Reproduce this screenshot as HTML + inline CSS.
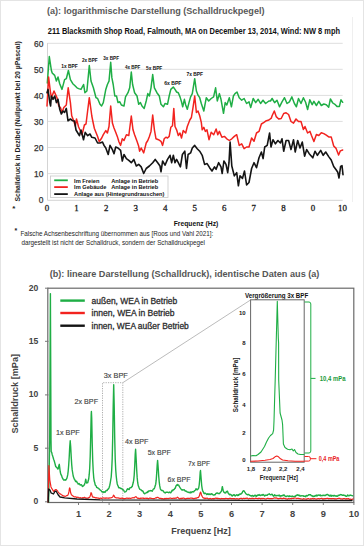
<!DOCTYPE html>
<html><head><meta charset="utf-8"><title>Schalldruck</title>
<style>
html,body{margin:0;padding:0;background:#fff;}
body{width:364px;height:546px;position:relative;overflow:hidden;font-family:"Liberation Sans", sans-serif;}
</style></head><body>
<svg width="364" height="546" viewBox="0 0 364 546" style="position:absolute;left:0;top:0"><rect x="0.5" y="0.5" width="363" height="545" fill="none" stroke="#e4e4e4" stroke-width="1"/><line x1="352.5" y1="17" x2="352.5" y2="202" stroke="#efefef" stroke-width="1"/><text x="47" y="13.7" font-size="9.4" fill="#595959" font-weight="bold" font-family='"Liberation Sans", sans-serif' textLength="217.5" lengthAdjust="spacingAndGlyphs">(a): logarithmische Darstellung (Schalldruckpegel)</text><text x="47.8" y="33.5" font-size="8.5" fill="#111" font-weight="bold" font-family='"Liberation Sans", sans-serif' textLength="292.2" lengthAdjust="spacingAndGlyphs">211 Blacksmith Shop Road, Falmouth, MA on December 13, 2014, Wind: NW 8 mph</text><line x1="47.5" y1="43.3" x2="342.7" y2="43.3" stroke="#dedede" stroke-width="1"/><line x1="47.5" y1="69.3" x2="342.7" y2="69.3" stroke="#dedede" stroke-width="1"/><line x1="47.5" y1="95.4" x2="342.7" y2="95.4" stroke="#dedede" stroke-width="1"/><line x1="47.5" y1="121.4" x2="342.7" y2="121.4" stroke="#dedede" stroke-width="1"/><line x1="47.5" y1="147.5" x2="342.7" y2="147.5" stroke="#dedede" stroke-width="1"/><line x1="47.5" y1="173.6" x2="342.7" y2="173.6" stroke="#dedede" stroke-width="1"/><line x1="47.5" y1="43" x2="47.5" y2="200.3" stroke="#d4d4d4" stroke-width="1"/><line x1="47.5" y1="200.3" x2="342.7" y2="200.3" stroke="#d4d4d4" stroke-width="1"/><text x="43.4" y="46.7" font-size="8.4" fill="#333" font-weight="normal" font-family='"Liberation Sans", sans-serif' text-anchor="end" stroke="#333" stroke-width="0.25">60</text><text x="43.4" y="72.8" font-size="8.4" fill="#333" font-weight="normal" font-family='"Liberation Sans", sans-serif' text-anchor="end" stroke="#333" stroke-width="0.25">50</text><text x="43.4" y="98.9" font-size="8.4" fill="#333" font-weight="normal" font-family='"Liberation Sans", sans-serif' text-anchor="end" stroke="#333" stroke-width="0.25">40</text><text x="43.4" y="125.0" font-size="8.4" fill="#333" font-weight="normal" font-family='"Liberation Sans", sans-serif' text-anchor="end" stroke="#333" stroke-width="0.25">30</text><text x="43.4" y="151.1" font-size="8.4" fill="#333" font-weight="normal" font-family='"Liberation Sans", sans-serif' text-anchor="end" stroke="#333" stroke-width="0.25">20</text><text x="43.4" y="177.2" font-size="8.4" fill="#333" font-weight="normal" font-family='"Liberation Sans", sans-serif' text-anchor="end" stroke="#333" stroke-width="0.25">10</text><text x="43.4" y="203.3" font-size="8.4" fill="#333" font-weight="normal" font-family='"Liberation Sans", sans-serif' text-anchor="end" stroke="#333" stroke-width="0.25">0</text><text x="47.0" y="210.8" font-size="8.9" fill="#222" font-weight="normal" font-family='"Liberation Serif", serif' text-anchor="middle" stroke="#222" stroke-width="0.3">0</text><text x="76.5" y="210.8" font-size="8.9" fill="#222" font-weight="normal" font-family='"Liberation Serif", serif' text-anchor="middle" stroke="#222" stroke-width="0.3">1</text><text x="106.1" y="210.8" font-size="8.9" fill="#222" font-weight="normal" font-family='"Liberation Serif", serif' text-anchor="middle" stroke="#222" stroke-width="0.3">2</text><text x="135.7" y="210.8" font-size="8.9" fill="#222" font-weight="normal" font-family='"Liberation Serif", serif' text-anchor="middle" stroke="#222" stroke-width="0.3">3</text><text x="165.2" y="210.8" font-size="8.9" fill="#222" font-weight="normal" font-family='"Liberation Serif", serif' text-anchor="middle" stroke="#222" stroke-width="0.3">4</text><text x="194.8" y="210.8" font-size="8.9" fill="#222" font-weight="normal" font-family='"Liberation Serif", serif' text-anchor="middle" stroke="#222" stroke-width="0.3">5</text><text x="224.3" y="210.8" font-size="8.9" fill="#222" font-weight="normal" font-family='"Liberation Serif", serif' text-anchor="middle" stroke="#222" stroke-width="0.3">6</text><text x="253.8" y="210.8" font-size="8.9" fill="#222" font-weight="normal" font-family='"Liberation Serif", serif' text-anchor="middle" stroke="#222" stroke-width="0.3">7</text><text x="283.4" y="210.8" font-size="8.9" fill="#222" font-weight="normal" font-family='"Liberation Serif", serif' text-anchor="middle" stroke="#222" stroke-width="0.3">8</text><text x="312.9" y="210.8" font-size="8.9" fill="#222" font-weight="normal" font-family='"Liberation Serif", serif' text-anchor="middle" stroke="#222" stroke-width="0.3">0</text><text x="342.5" y="210.8" font-size="8.9" fill="#222" font-weight="normal" font-family='"Liberation Serif", serif' text-anchor="middle" stroke="#222" stroke-width="0.3">10</text><text x="0" y="0" font-size="7.6" fill="#1e1e1e" font-weight="bold" font-family='"Liberation Sans", sans-serif' textLength="160.4" lengthAdjust="spacingAndGlyphs" transform="translate(20.4,201.5) rotate(-90)">Schalldruck in Dezibel (Nullpunkt bei 20 µPascal)</text><text x="12.2" y="211" font-size="8" fill="#222" font-weight="bold" font-family='"Liberation Sans", sans-serif'>*</text><polyline points="47.3,83.0 49.3,56.5 51.4,70.5 52.2,73.0 54.7,75.4 56.4,81.0 58.0,77.0 59.7,83.7 62.0,89.4 64.6,79.6 66.3,78.7 68.4,70.5 70.4,79.6 72.8,83.7 74.5,85.3 77.0,87.8 78.6,88.6 81.0,89.4 83.6,84.5 84.9,92.7 86.9,91.0 89.3,65.5 91.0,81.0 93.4,87.8 96.0,97.7 97.6,98.5 100.0,104.3 101.6,106.0 103.3,102.6 105.8,89.4 107.4,84.5 109.0,81.2 110.7,62.3 111.9,77.9 113.2,84.5 114.8,96.0 116.5,96.0 118.0,102.6 119.8,101.8 121.4,105.0 124.0,106.0 125.5,96.9 128.0,92.7 129.7,87.8 131.3,72.0 132.6,84.5 134.6,92.7 137.0,96.0 138.7,104.3 140.4,102.6 142.0,106.0 144.2,108.4 146.2,101.0 147.8,93.6 149.4,96.0 151.0,87.8 152.7,74.6 154.4,87.8 156.9,92.7 159.3,96.0 161.0,104.3 163.4,106.8 165.0,103.5 167.5,104.3 169.2,96.0 170.8,89.4 173.3,87.0 175.0,89.4 176.6,92.0 178.3,92.7 180.0,96.9 181.5,101.8 182.7,106.8 184.4,99.3 185.7,105.0 187.3,109.2 189.0,102.6 190.6,96.9 192.3,93.6 194.7,78.7 196.4,91.0 198.0,95.2 199.7,97.7 201.3,103.5 203.8,111.0 206.3,97.7 208.7,101.0 211.2,98.5 213.6,96.9 215.6,87.8 217.3,101.0 219.4,93.6 221.0,99.3 223.5,113.3 225.2,102.6 226.8,105.0 229.3,97.7 231.4,106.8 233.4,96.0 235.0,93.6 237.0,92.0 239.2,97.7 241.7,100.2 244.1,98.5 246.6,103.5 249.0,101.8 250.7,107.6 253.2,98.5 255.7,102.6 258.2,99.3 260.6,103.5 263.0,100.2 265.6,103.5 268.9,101.0 270.5,101.0 272.1,98.5 274.6,102.6 277.0,100.2 279.5,106.8 282.0,101.8 284.5,97.7 287.0,103.5 289.4,101.8 291.9,96.9 294.4,103.5 296.4,106.8 298.5,98.5 301.0,103.5 303.4,97.7 305.6,102.3 307.6,109.5 309.8,99.8 312.2,104.7 313.9,101.4 316.4,105.5 318.8,101.4 321.3,105.5 323.8,104.0 326.3,104.7 328.7,107.2 330.4,99.0 332.8,103.0 335.3,104.7 337.0,106.4 339.4,106.4 341.0,99.8 342.7,102.3" fill="none" stroke="#1fae45" stroke-width="1.5" stroke-linejoin="round" stroke-linecap="round"/><polyline points="47.0,106.0 48.6,77.0 50.3,91.0 51.4,97.7 54.0,91.0 55.5,94.4 57.0,97.7 58.8,106.0 60.5,107.6 62.0,112.5 63.8,107.6 66.3,105.0 68.2,87.8 70.4,102.6 71.7,115.8 73.7,120.8 75.3,126.0 76.5,119.0 78.6,127.0 80.0,130.0 82.0,134.8 84.4,125.0 86.0,124.0 87.5,112.0 89.3,97.7 91.0,110.0 91.8,116.0 93.0,122.0 94.3,128.2 97.6,136.5 99.2,141.4 100.0,140.5 101.7,138.0 103.3,134.7 105.8,130.6 107.4,133.0 109.0,126.5 110.7,106.0 112.4,123.0 114.0,128.0 115.7,132.3 117.3,136.4 119.0,142.0 120.6,145.4 122.3,138.8 124.0,140.5 126.4,134.7 128.8,135.5 131.3,116.0 133.0,129.8 134.6,134.7 137.0,141.3 138.7,146.3 139.6,151.2 141.2,148.0 143.7,152.9 146.2,143.0 147.8,140.5 149.4,136.4 151.0,131.4 152.7,115.0 154.4,129.8 156.0,138.8 158.5,139.7 161.0,141.3 162.6,145.4 164.2,138.8 165.9,137.2 167.5,138.0 169.2,136.4 170.8,127.3 172.5,125.7 173.8,108.4 175.0,126.5 176.6,129.8 178.3,135.5 180.0,133.0 181.5,138.0 183.2,130.6 185.7,133.0 187.3,126.5 189.8,120.0 191.4,117.5 193.0,107.6 194.7,96.0 196.4,112.5 198.0,111.0 199.7,115.8 201.3,122.4 202.2,129.8 203.8,127.3 205.4,131.4 207.0,129.8 209.0,139.7 211.2,132.3 213.7,134.7 216.1,129.0 217.8,134.7 219.4,131.4 221.9,137.2 224.4,136.4 226.8,138.8 229.3,140.5 231.8,138.8 234.3,136.4 236.7,134.7 239.2,145.4 241.7,143.8 244.1,148.7 246.6,147.0 249.0,147.0 251.6,138.0 254.0,141.3 256.5,133.0 259.0,131.4 261.4,124.0 264.0,122.4 266.4,120.7 268.9,120.0 271.3,118.2 272.1,115.8 274.3,111.0 276.2,116.6 278.7,119.0 281.2,118.5 283.7,113.5 286.1,112.8 288.6,114.5 291.0,121.5 293.5,123.2 296.0,119.0 298.5,121.5 301.0,121.5 303.4,129.5 305.0,126.5 307.6,133.0 310.0,131.4 311.4,135.2 313.9,141.5 316.4,134.5 318.8,135.5 321.3,132.7 323.8,133.6 326.3,135.2 328.7,136.9 331.2,136.9 333.7,146.0 336.1,148.4 338.6,155.0 340.3,150.9 342.7,150.0" fill="none" stroke="#f2231f" stroke-width="1.5" stroke-linejoin="round" stroke-linecap="round"/><polyline points="47.0,92.7 48.0,89.4 49.8,102.6 50.6,106.0 51.4,96.0 53.0,99.3 54.7,96.0 56.4,102.6 58.0,99.3 59.7,109.2 61.3,114.0 63.0,111.0 64.6,112.5 66.3,108.4 68.0,120.8 70.4,119.0 72.8,120.8 74.5,121.0 76.0,130.0 77.8,133.0 79.4,135.7 81.0,130.0 83.5,139.8 85.2,132.4 87.7,135.7 90.0,134.0 91.8,137.3 95.0,138.0 97.6,143.0 100.0,143.0 102.5,142.0 104.0,145.4 105.8,148.0 108.2,154.5 110.0,145.4 112.4,149.6 114.0,153.7 115.7,147.0 118.0,148.0 120.6,150.4 122.3,161.0 124.0,154.5 126.4,158.6 128.8,160.3 131.3,162.7 133.8,159.4 136.3,166.0 138.7,164.4 141.2,166.9 143.7,173.5 146.2,168.5 149.4,166.0 152.7,162.7 155.2,159.4 157.7,162.7 160.0,166.0 161.0,171.8 162.6,161.0 165.0,165.2 167.5,159.4 170.0,155.3 171.7,162.7 173.3,155.3 175.0,162.7 176.6,159.4 178.3,162.7 180.4,166.9 182.4,154.5 184.8,151.2 186.5,168.5 188.1,154.5 190.6,152.9 192.3,148.0 194.7,145.4 197.2,148.7 199.7,151.2 202.2,155.3 204.6,164.4 207.1,163.6 209.6,167.7 212.0,171.0 214.5,166.9 216.1,169.3 218.6,162.7 221.0,166.9 222.2,173.5 223.9,161.0 226.0,164.4 227.7,172.6 229.0,162.7 230.1,142.1 231.8,166.0 234.3,175.9 236.7,172.6 238.4,185.8 240.0,175.9 242.5,178.4 244.5,171.0 246.6,185.0 249.0,182.5 251.6,168.5 254.0,162.7 256.5,167.7 259.0,157.8 261.4,152.0 263.1,158.6 264.7,147.0 267.2,145.4 269.6,133.0 271.0,147.0 273.0,139.7 275.4,143.8 277.9,140.5 280.4,143.0 282.0,138.8 283.7,151.2 286.1,140.5 288.6,140.5 291.0,149.6 293.5,139.7 295.2,152.0 297.7,140.5 300.0,148.0 302.3,142.1 304.6,156.2 306.7,149.6 309.2,153.7 312.8,157.8 315.0,151.2 317.4,155.3 320.7,150.4 323.2,155.3 325.7,152.0 328.7,156.6 331.2,160.0 333.7,166.5 336.1,169.8 337.8,172.3 339.0,178.0 340.6,166.5 342.0,165.7 343.0,174.7" fill="none" stroke="#141414" stroke-width="1.6" stroke-linejoin="round" stroke-linecap="round"/><text x="61.3" y="67.8" font-size="6.2" fill="#111" font-weight="bold" font-family='"Liberation Sans", sans-serif' textLength="16.5" lengthAdjust="spacingAndGlyphs">1x BPF</text><text x="81.9" y="62.1" font-size="6.2" fill="#111" font-weight="bold" font-family='"Liberation Sans", sans-serif' textLength="15.7" lengthAdjust="spacingAndGlyphs">2x BPF</text><text x="103.3" y="60.1" font-size="6.2" fill="#111" font-weight="bold" font-family='"Liberation Sans", sans-serif' textLength="15.7" lengthAdjust="spacingAndGlyphs">3x BPF</text><text x="125" y="69.2" font-size="6.2" fill="#111" font-weight="bold" font-family='"Liberation Sans", sans-serif' textLength="15.4" lengthAdjust="spacingAndGlyphs">4x BPF</text><text x="146" y="70.0" font-size="6.2" fill="#111" font-weight="bold" font-family='"Liberation Sans", sans-serif' textLength="16.3" lengthAdjust="spacingAndGlyphs">5x BPF</text><text x="164.2" y="84.6" font-size="6.2" fill="#111" font-weight="bold" font-family='"Liberation Sans", sans-serif' textLength="17.3" lengthAdjust="spacingAndGlyphs">6x BPF</text><text x="186.5" y="76.4" font-size="6.2" fill="#111" font-weight="bold" font-family='"Liberation Sans", sans-serif' textLength="16.5" lengthAdjust="spacingAndGlyphs">7x BPF</text><rect x="50.5" y="176" width="117.5" height="21.4" fill="#fff" stroke="#c8c8c8" stroke-width="0.8"/><line x1="54.2" y1="180.3" x2="67.8" y2="180.3" stroke="#1fae45" stroke-width="1.8"/><line x1="54.2" y1="187.1" x2="67.8" y2="187.1" stroke="#f2231f" stroke-width="1.8"/><line x1="54.2" y1="194.1" x2="67.8" y2="194.1" stroke="#141414" stroke-width="1.8"/><text x="74.1" y="182.5" font-size="6.1" fill="#111" font-weight="bold" font-family='"Liberation Sans", sans-serif' textLength="25.4" lengthAdjust="spacingAndGlyphs">Im Freien</text><text x="74.1" y="189.3" font-size="6.1" fill="#111" font-weight="bold" font-family='"Liberation Sans", sans-serif' textLength="32.3" lengthAdjust="spacingAndGlyphs">Im Gebäude</text><text x="111.2" y="182.5" font-size="6.1" fill="#111" font-weight="bold" font-family='"Liberation Sans", sans-serif' textLength="47" lengthAdjust="spacingAndGlyphs">Anlage in Betrieb</text><text x="111.2" y="189.3" font-size="6.1" fill="#111" font-weight="bold" font-family='"Liberation Sans", sans-serif' textLength="47" lengthAdjust="spacingAndGlyphs">Anlage in Betrieb</text><text x="74.1" y="196.3" font-size="6.1" fill="#111" font-weight="bold" font-family='"Liberation Sans", sans-serif' textLength="90.3" lengthAdjust="spacingAndGlyphs">Anlage aus (Hintegrundrauschen)</text><text x="173.7" y="226.4" font-size="8" fill="#111" font-weight="bold" font-family='"Liberation Sans", sans-serif' textLength="44.6" lengthAdjust="spacingAndGlyphs">Frequenz (Hz)</text><text x="14.5" y="233.4" font-size="7" fill="#222" font-weight="bold" font-family='"Liberation Sans", sans-serif'>*</text><text x="20.4" y="236.3" font-size="6.8" fill="#1e1e1e" font-weight="normal" font-family='"Liberation Sans", sans-serif' textLength="192.9" lengthAdjust="spacingAndGlyphs">Falsche Achsenbeschriftung übernommen aus [Roos und Vahl 2021]:</text><text x="21.4" y="245.2" font-size="6.8" fill="#1e1e1e" font-weight="normal" font-family='"Liberation Sans", sans-serif' textLength="183.6" lengthAdjust="spacingAndGlyphs">dargestellt ist nicht der Schalldruck, sondern der Schalldruckpegel</text><text x="49.7" y="277.4" font-size="9.5" fill="#555" font-weight="bold" font-family='"Liberation Sans", sans-serif' textLength="269.7" lengthAdjust="spacingAndGlyphs">(b): lineare Darstellung (Schalldruck), identische Daten aus (a)</text><rect x="47.8" y="288.2" width="306" height="214.3" fill="none" stroke="#6a6a6a" stroke-width="1.2"/><text x="38.3" y="290.7" font-size="8.6" fill="#444" font-weight="bold" font-family='"Liberation Sans", sans-serif' text-anchor="end">20</text><line x1="45" y1="288.2" x2="48.5" y2="288.2" stroke="#777" stroke-width="1"/><text x="38.3" y="343.8" font-size="8.6" fill="#444" font-weight="bold" font-family='"Liberation Sans", sans-serif' text-anchor="end">15</text><line x1="45" y1="341.3" x2="48.5" y2="341.3" stroke="#777" stroke-width="1"/><text x="38.3" y="397.4" font-size="8.6" fill="#444" font-weight="bold" font-family='"Liberation Sans", sans-serif' text-anchor="end">10</text><line x1="45" y1="394.9" x2="48.5" y2="394.9" stroke="#777" stroke-width="1"/><text x="38.3" y="450.7" font-size="8.6" fill="#444" font-weight="bold" font-family='"Liberation Sans", sans-serif' text-anchor="end">5</text><line x1="45" y1="448.2" x2="48.5" y2="448.2" stroke="#777" stroke-width="1"/><text x="38.3" y="504.3" font-size="8.6" fill="#444" font-weight="bold" font-family='"Liberation Sans", sans-serif' text-anchor="end">0</text><line x1="45" y1="501.8" x2="48.5" y2="501.8" stroke="#777" stroke-width="1"/><text x="78.5" y="517.2" font-size="9.3" fill="#444" font-weight="bold" font-family='"Liberation Sans", sans-serif' text-anchor="middle">1</text><line x1="78.5" y1="502.5" x2="78.5" y2="505" stroke="#777" stroke-width="1"/><text x="109.1" y="517.2" font-size="9.3" fill="#444" font-weight="bold" font-family='"Liberation Sans", sans-serif' text-anchor="middle">2</text><line x1="109.1" y1="502.5" x2="109.1" y2="505" stroke="#777" stroke-width="1"/><text x="139.7" y="517.2" font-size="9.3" fill="#444" font-weight="bold" font-family='"Liberation Sans", sans-serif' text-anchor="middle">3</text><line x1="139.7" y1="502.5" x2="139.7" y2="505" stroke="#777" stroke-width="1"/><text x="170.3" y="517.2" font-size="9.3" fill="#444" font-weight="bold" font-family='"Liberation Sans", sans-serif' text-anchor="middle">4</text><line x1="170.3" y1="502.5" x2="170.3" y2="505" stroke="#777" stroke-width="1"/><text x="200.9" y="517.2" font-size="9.3" fill="#444" font-weight="bold" font-family='"Liberation Sans", sans-serif' text-anchor="middle">5</text><line x1="200.9" y1="502.5" x2="200.9" y2="505" stroke="#777" stroke-width="1"/><text x="231.5" y="517.2" font-size="9.3" fill="#444" font-weight="bold" font-family='"Liberation Sans", sans-serif' text-anchor="middle">6</text><line x1="231.5" y1="502.5" x2="231.5" y2="505" stroke="#777" stroke-width="1"/><text x="262.1" y="517.2" font-size="9.3" fill="#444" font-weight="bold" font-family='"Liberation Sans", sans-serif' text-anchor="middle">7</text><line x1="262.1" y1="502.5" x2="262.1" y2="505" stroke="#777" stroke-width="1"/><text x="292.7" y="517.2" font-size="9.3" fill="#444" font-weight="bold" font-family='"Liberation Sans", sans-serif' text-anchor="middle">8</text><line x1="292.7" y1="502.5" x2="292.7" y2="505" stroke="#777" stroke-width="1"/><text x="323.3" y="517.2" font-size="9.3" fill="#444" font-weight="bold" font-family='"Liberation Sans", sans-serif' text-anchor="middle">9</text><line x1="323.3" y1="502.5" x2="323.3" y2="505" stroke="#777" stroke-width="1"/><text x="353.9" y="517.2" font-size="9.3" fill="#444" font-weight="bold" font-family='"Liberation Sans", sans-serif' text-anchor="middle">10</text><line x1="353.9" y1="502.5" x2="353.9" y2="505" stroke="#777" stroke-width="1"/><text x="171.3" y="534.2" font-size="9.5" fill="#444" font-weight="bold" font-family='"Liberation Sans", sans-serif' textLength="59.4" lengthAdjust="spacingAndGlyphs">Frequenz [Hz]</text><text x="0" y="0" font-size="9.5" fill="#444" font-weight="bold" font-family='"Liberation Sans", sans-serif' textLength="79.6" lengthAdjust="spacingAndGlyphs" transform="translate(17.7,433.6) rotate(-90)">Schalldruck [mPa]</text><line x1="60.3" y1="300.6" x2="84.8" y2="300.6" stroke="#1fae45" stroke-width="2.4"/><text x="91.6" y="303.7" font-size="8.6" fill="#2e2e2e" font-weight="normal" font-family='"Liberation Sans", sans-serif' textLength="85.7" lengthAdjust="spacingAndGlyphs" stroke="#2e2e2e" stroke-width="0.3">außen, WEA in Betrieb</text><line x1="60.3" y1="313" x2="84.8" y2="313" stroke="#f2231f" stroke-width="2.4"/><text x="91.6" y="316.1" font-size="8.6" fill="#2e2e2e" font-weight="normal" font-family='"Liberation Sans", sans-serif' textLength="83" lengthAdjust="spacingAndGlyphs" stroke="#2e2e2e" stroke-width="0.3">innen, WEA in Betrieb</text><line x1="60.3" y1="325.7" x2="84.8" y2="325.7" stroke="#141414" stroke-width="2.4"/><text x="91.6" y="328.8" font-size="8.6" fill="#2e2e2e" font-weight="normal" font-family='"Liberation Sans", sans-serif' textLength="97.2" lengthAdjust="spacingAndGlyphs" stroke="#2e2e2e" stroke-width="0.3">innen, WEA außer Betrieb</text><path d="M102.5 502 V382.7 H122.8 V502" fill="none" stroke="#999" stroke-width="0.8" stroke-dasharray="1.2,1.2"/><line x1="122.8" y1="382.7" x2="250.8" y2="299.8" stroke="#aaa" stroke-width="0.8"/><text x="56" y="435.4" font-size="7.5" fill="#444" font-weight="normal" font-family='"Liberation Sans", sans-serif' textLength="23.6" lengthAdjust="spacingAndGlyphs" stroke="#444" stroke-width="0.15">1x BPF</text><text x="74.6" y="404.4" font-size="7.5" fill="#444" font-weight="normal" font-family='"Liberation Sans", sans-serif' textLength="23.4" lengthAdjust="spacingAndGlyphs" stroke="#444" stroke-width="0.15">2x BPF</text><text x="103.8" y="378.0" font-size="7.5" fill="#444" font-weight="normal" font-family='"Liberation Sans", sans-serif' textLength="24.0" lengthAdjust="spacingAndGlyphs" stroke="#444" stroke-width="0.15">3x BPF</text><text x="125" y="443.7" font-size="7.5" fill="#444" font-weight="normal" font-family='"Liberation Sans", sans-serif' textLength="23.4" lengthAdjust="spacingAndGlyphs" stroke="#444" stroke-width="0.15">4x BPF</text><text x="147.7" y="455.2" font-size="7.5" fill="#444" font-weight="normal" font-family='"Liberation Sans", sans-serif' textLength="23.0" lengthAdjust="spacingAndGlyphs" stroke="#444" stroke-width="0.15">5x BPF</text><text x="167.5" y="481.9" font-size="7.5" fill="#444" font-weight="normal" font-family='"Liberation Sans", sans-serif' textLength="23.0" lengthAdjust="spacingAndGlyphs" stroke="#444" stroke-width="0.15">6x BPF</text><text x="188" y="465.9" font-size="7.5" fill="#444" font-weight="normal" font-family='"Liberation Sans", sans-serif' textLength="22" lengthAdjust="spacingAndGlyphs" stroke="#444" stroke-width="0.15">7x BPF</text><polyline points="48.6,502.0 49.7,440.0 50.4,293.6 51.0,440.0 51.2,451.6 51.7,452.4 52.2,454.7 52.7,456.1 53.2,457.7 53.7,459.5 54.2,460.7 54.7,462.6 55.2,464.5 55.7,466.5 56.2,467.0 56.7,467.7 57.2,467.9 57.7,469.0 58.2,468.8 58.7,466.1 59.3,464.3 59.7,467.6 60.2,471.5 60.7,473.9 61.2,474.9 61.7,475.9 62.2,477.6 62.7,478.4 63.2,479.4 63.7,480.1 64.2,479.8 64.7,480.0 65.2,480.0 65.7,480.2 66.2,479.5 66.7,478.7 67.2,477.1 67.7,474.9 68.2,471.0 68.7,465.0 69.2,457.2 69.7,447.2 70.2,440.7 70.7,447.0 71.2,456.6 71.7,464.5 72.2,469.9 72.7,473.0 73.2,476.0 73.7,477.4 74.2,479.0 74.7,479.4 75.2,480.7 75.7,481.6 76.2,481.1 76.7,481.4 77.2,482.7 77.7,483.0 78.2,484.1 78.7,484.0 79.2,483.6 79.7,484.4 80.2,485.1 80.7,485.0 81.2,484.7 81.7,485.0 82.2,486.1 82.7,486.5 83.2,485.9 83.7,485.6 84.2,485.0 84.7,483.9 85.2,482.2 85.7,479.2 86.2,481.4 86.7,483.1 87.2,482.9 87.7,482.7 88.2,480.8 88.7,479.0 89.2,474.7 89.7,468.3 90.2,456.4 90.7,436.2 91.2,414.7 91.4,411.5 91.7,418.0 92.2,442.4 92.7,460.2 93.2,470.7 93.7,477.3 94.2,481.0 94.7,482.5 95.2,484.9 95.7,485.4 96.2,486.1 96.7,487.4 97.2,487.7 97.7,488.0 98.2,488.1 98.7,488.3 99.2,489.2 99.7,489.4 100.2,490.1 100.7,490.3 101.2,490.7 101.7,491.7 102.2,491.6 102.7,491.9 103.2,492.5 103.7,491.9 104.2,491.6 104.7,492.2 105.2,492.2 105.7,491.2 106.2,490.4 106.7,490.5 107.2,490.6 107.7,489.2 108.2,489.2 108.7,488.5 109.2,487.2 109.7,485.5 110.2,483.1 110.7,480.0 111.2,477.0 111.7,469.9 112.2,458.8 112.7,437.8 113.2,406.4 113.7,384.7 114.2,405.9 114.7,437.5 115.2,458.6 115.7,469.5 116.2,476.0 116.7,480.4 117.2,483.7 117.7,485.4 118.2,486.2 118.7,487.7 119.2,487.8 119.7,487.7 120.2,488.1 120.7,488.6 121.2,488.5 121.7,488.6 122.2,489.2 122.7,489.9 123.2,489.8 123.7,490.2 124.2,491.3 124.7,492.0 125.2,491.9 125.7,491.6 126.2,491.2 126.7,490.2 127.2,489.3 127.7,488.7 128.2,489.4 128.7,489.3 129.2,489.5 129.7,488.0 130.2,487.9 130.7,487.6 131.2,487.6 131.7,486.6 132.2,486.6 132.7,484.5 133.2,482.8 133.7,480.1 134.2,475.2 134.7,466.3 135.2,454.6 135.6,449.2 136.2,459.8 136.7,470.3 137.2,477.9 137.7,482.7 138.2,485.5 138.7,486.7 139.2,488.1 139.7,489.1 140.2,489.5 140.7,489.8 141.2,489.9 141.7,490.5 142.2,491.1 142.7,490.9 143.2,491.7 143.7,492.9 144.2,493.5 144.7,493.8 145.2,493.1 145.7,493.1 146.2,492.8 146.7,492.4 147.2,492.6 147.7,491.6 148.2,491.9 148.7,490.9 149.2,491.0 149.7,490.8 150.2,490.5 150.7,490.9 151.2,490.8 151.7,490.8 152.2,491.2 152.7,490.3 153.2,489.3 153.7,488.9 154.2,488.8 154.7,487.5 155.2,485.7 155.7,484.2 156.2,480.2 156.7,473.1 157.2,464.7 157.6,460.4 158.2,468.0 158.7,476.0 159.2,481.8 159.7,485.7 160.2,488.2 160.7,489.7 161.2,490.0 161.7,490.5 162.2,490.6 162.7,490.4 163.2,490.9 163.7,491.8 164.2,492.4 164.7,492.6 165.2,493.1 165.7,492.6 166.2,492.1 166.7,492.4 167.2,492.3 167.7,492.2 168.2,492.5 168.7,492.7 169.2,492.6 169.7,492.1 170.2,492.5 170.7,492.8 171.2,492.1 171.7,491.0 172.2,490.2 172.7,490.8 173.2,489.7 173.7,489.8 174.2,489.4 174.7,488.5 175.2,488.3 175.7,486.7 176.2,485.6 176.7,485.2 177.2,484.4 177.4,485.3 177.7,484.9 178.2,484.9 178.7,485.1 179.2,486.4 179.7,487.1 180.2,487.9 180.7,488.6 181.2,489.2 181.7,489.9 182.2,490.1 182.7,489.7 183.2,490.0 183.7,489.9 184.2,489.8 184.7,490.4 185.2,491.2 185.7,491.0 186.2,491.1 186.7,491.4 187.2,492.0 187.7,492.1 188.2,492.2 188.7,492.5 189.2,492.2 189.7,492.6 190.2,492.9 190.7,491.9 191.2,492.6 191.7,492.6 192.2,491.7 192.7,491.6 193.2,491.6 193.7,491.9 194.2,491.1 194.7,490.6 195.2,490.2 195.7,489.7 196.0,488.7 196.7,489.5 197.2,489.9 197.7,489.2 198.2,489.0 198.7,488.0 199.2,485.0 199.7,479.8 200.2,472.2 200.5,470.5 201.2,479.2 201.7,485.6 202.2,488.8 202.7,491.0 203.2,491.6 203.7,492.9 204.2,493.7 204.7,493.5 205.2,493.1 205.7,493.5 206.2,493.9 206.7,494.5 207.2,494.4 207.7,493.7 208.2,494.5 208.7,493.9 209.2,494.5 209.7,494.0 210.2,494.0 210.7,494.6 211.2,494.0 211.7,493.7 212.2,494.1 212.7,494.6 213.2,495.0 213.7,494.9 214.2,495.1 214.7,494.6 215.2,494.8 215.7,493.7 216.2,493.2 216.7,493.3 217.2,492.9 217.7,493.3 218.2,493.5 218.7,493.4 219.2,493.7 219.7,493.4 220.2,492.7 220.7,492.1 221.2,491.6 221.7,490.1 222.2,487.0 222.4,486.7 222.7,488.3 223.2,490.5 223.7,492.0 224.2,492.3 224.7,492.8 225.2,493.0 225.7,492.9 226.2,491.7 226.7,491.8 227.2,491.1 227.7,491.7 228.2,493.2 228.7,493.9 229.2,494.3 229.7,494.8 230.2,494.3 230.7,494.7 231.2,494.8 231.7,495.6 232.2,496.0 232.7,495.3 233.2,495.2 233.7,494.7 234.2,494.8 234.7,495.4 235.2,495.9 235.7,495.5 236.2,495.1 236.7,494.7 237.2,495.0 237.7,495.6 238.2,494.8 238.7,495.3 239.2,494.4 239.7,494.1 240.2,493.9 240.7,494.3 241.2,493.8 241.7,493.2 242.2,492.9 242.7,491.4 243.2,491.0 243.6,490.7 244.2,491.1 244.7,491.9 245.2,492.6 245.7,493.5 246.2,494.0 246.7,494.3 247.2,494.5 247.7,494.8 248.2,494.5 248.7,494.4 249.2,495.0 249.7,495.3 250.2,495.4 250.7,495.9 251.2,495.8 251.7,496.1 252.2,495.4 252.7,495.8 253.2,496.0 253.7,496.3 254.2,495.6 254.7,495.3 255.2,495.9 255.7,495.3 256.2,496.0 256.7,496.3 257.2,495.3 257.7,495.0 258.2,495.4 258.7,495.0 259.2,494.6 259.7,495.4 260.2,495.2 260.7,495.6 261.2,494.9 261.7,494.9 262.2,495.3 262.7,494.6 263.2,494.4 263.7,495.0 264.2,495.6 264.7,496.1 265.2,495.1 265.7,495.1 266.2,495.4 266.7,495.3 267.2,495.4 267.7,494.8 268.2,494.3 268.7,494.1 269.2,493.8 269.7,494.4 270.2,494.7 270.7,494.9 271.2,494.5 271.7,494.3 272.2,494.3 272.7,495.2 273.2,495.9 273.7,496.2 274.2,495.3 274.7,494.7 275.2,495.7 275.7,495.5 276.2,495.9 276.7,495.5 277.2,495.5 277.7,495.6 278.2,495.5 278.7,495.7 279.2,495.1 279.7,495.7 280.2,496.2 280.7,495.6 281.2,495.6 281.7,496.0 282.2,495.8 282.7,495.3 283.2,495.0 283.7,495.4 284.2,494.9 284.7,495.8 285.2,496.2 285.7,496.3 286.2,496.5 286.7,496.3 287.2,495.9 287.7,496.0 288.2,495.9 288.7,496.5 289.2,496.6 289.7,495.8 290.2,496.3 290.7,496.4 291.2,496.5 291.7,496.6 292.2,496.0 292.7,496.4 293.2,496.6 293.7,496.5 294.2,496.5 294.7,496.5 295.2,496.0 295.7,496.2 296.2,495.3 296.7,495.3 297.2,495.4 297.7,494.8 298.2,495.0 298.7,495.5 299.2,495.7 299.7,495.3 300.2,496.1 300.7,496.1 301.2,495.7 301.7,495.9 302.2,495.9 302.7,495.8 303.2,495.6 303.7,496.3 304.2,496.2 304.7,496.2 305.2,496.3 305.7,496.7 306.2,495.5 306.7,495.7 307.2,496.0 307.7,495.5 308.2,495.4 308.7,494.8 309.2,494.7 309.7,494.9 310.2,494.7 310.7,494.7 311.2,495.7 311.7,495.7 312.2,495.6 312.7,496.3 313.2,496.0 313.7,496.5 314.2,496.3 314.7,496.4 315.2,495.4 315.7,495.6 316.2,495.9 316.7,495.1 317.2,495.9 317.7,495.3 318.2,495.3 318.7,495.0 319.2,495.2 319.7,495.5 320.2,494.9 320.7,495.8 321.2,495.5 321.7,495.6 322.2,495.7 322.7,495.4 323.2,495.1 323.7,495.5 324.2,495.6 324.7,495.2 325.2,495.6 325.7,495.3 326.2,494.7 326.7,494.7 327.2,494.4 327.7,494.4 328.2,495.2 328.7,495.2 329.2,495.9 329.7,496.0 330.2,495.1 330.7,495.9 331.2,496.3 331.7,495.3 332.2,495.9 332.7,495.6 333.2,495.5 333.7,496.1 334.2,495.4 334.7,495.5 335.2,496.0 335.7,496.1 336.2,495.7 336.7,496.2 337.2,496.3 337.7,496.0 338.2,495.2 338.7,495.5 339.2,495.4 339.7,495.0 340.2,494.5 340.7,494.9 341.2,494.6 341.7,494.9 342.2,495.3 342.7,495.3 343.2,495.0 343.7,495.3 344.2,495.2 344.7,495.6 345.2,495.5 345.7,496.1 346.2,496.4 346.7,496.3 347.2,495.5 347.7,494.9 348.2,495.6 348.7,495.9 349.2,495.8 349.7,495.4 350.2,495.0 350.7,495.4 351.2,495.4 351.7,495.5 352.2,495.6 352.7,495.8" fill="none" stroke="#1fae45" stroke-width="1.4" stroke-linejoin="round" stroke-linecap="round"/><polyline points="48.2,502.0 48.9,465.6 49.8,480.0 51.0,486.9 51.5,487.9 52.0,488.9 52.5,489.4 53.0,490.4 53.5,491.3 54.0,491.2 54.5,490.5 55.0,490.0 55.5,489.6 56.0,489.5 56.5,489.8 57.0,490.3 57.5,490.8 58.0,491.8 58.5,492.3 59.0,493.0 59.5,493.7 60.0,494.0 60.5,493.9 61.0,494.5 61.5,494.8 62.0,495.1 62.5,495.4 63.0,495.9 63.5,495.8 64.0,496.2 64.5,496.2 65.0,496.3 65.5,496.3 66.0,496.0 66.5,495.6 67.0,495.6 67.5,495.5 68.0,494.9 68.5,493.6 69.0,491.4 69.5,488.2 69.7,488.0 70.0,488.6 70.5,492.0 71.0,493.9 71.5,494.8 72.0,495.3 72.5,495.6 73.0,496.0 73.5,496.5 74.0,496.9 74.5,496.9 75.0,496.9 75.5,496.9 76.0,496.9 76.5,497.3 77.0,497.4 77.5,497.3 78.0,497.1 78.5,497.5 79.0,497.7 79.5,498.0 80.0,497.7 80.5,497.7 81.0,498.0 81.5,498.0 82.0,498.2 82.5,497.7 83.0,498.1 83.5,497.6 84.0,497.6 84.5,497.3 85.0,497.7 85.5,497.9 86.0,498.1 86.5,498.1 87.0,498.2 87.5,498.0 88.0,498.1 88.5,497.9 89.0,497.4 89.5,497.4 90.0,496.5 90.5,494.9 91.0,492.7 91.2,492.8 91.5,493.1 92.0,495.5 92.5,496.9 93.0,497.1 93.5,497.1 94.0,497.4 94.5,497.4 95.0,497.6 95.5,497.9 96.0,497.7 96.5,497.8 97.0,498.1 97.5,498.0 98.0,497.9 98.5,498.2 99.0,498.3 99.5,498.4 100.0,498.4 100.5,498.1 101.0,498.2 101.5,498.4 102.0,498.3 102.5,498.0 103.0,497.9 103.5,497.9 104.0,498.2 104.5,498.2 105.0,498.1 105.5,498.3 106.0,497.9 106.5,498.1 107.0,498.0 107.5,498.0 108.0,498.3 108.5,498.0 109.0,498.3 109.5,497.9 110.0,498.0 110.5,498.0 111.0,497.7 111.5,497.7 112.0,497.5 112.5,497.1 113.0,496.5 113.5,495.1 113.7,495.3 114.0,495.6 114.5,496.4 115.0,497.4 115.5,497.5 116.0,497.9 116.5,497.8 117.0,497.9 117.5,498.0 118.0,497.8 118.5,498.1 119.0,498.1 119.5,498.3 120.0,498.3 120.5,498.3 121.0,498.3 121.5,498.1 122.0,498.5 122.5,498.1 123.0,498.4 123.5,498.6 124.0,498.5 124.5,498.6 125.0,498.6 125.5,498.5 126.0,498.3 126.5,498.2 127.0,498.1 127.5,498.1 128.0,498.5 128.5,498.3 129.0,498.2 129.5,498.2 130.0,498.4 130.5,498.4 131.0,498.3 131.5,498.1 132.0,498.0 132.5,497.8 133.0,497.7 133.5,497.7 134.0,498.0 134.5,497.7 135.0,497.0 135.6,496.8 136.0,496.7 136.5,497.4 137.0,497.8 137.5,498.3 138.0,498.1 138.5,498.4 139.0,498.2 139.5,498.6 140.0,498.6 140.5,498.1 141.0,498.4 141.5,498.2 142.0,498.2 142.5,498.0 143.0,498.4 143.5,498.1 144.0,498.4 144.5,498.3 145.0,498.5 145.5,498.3 146.0,498.0 146.5,498.5 147.0,498.5 147.5,498.2 148.0,498.6 148.5,498.8 149.0,498.4 149.5,498.1 150.0,498.3 150.5,498.1 151.0,498.4 151.5,498.4 152.0,498.5 152.5,498.5 153.0,498.6 153.5,498.7 154.0,498.6 154.5,498.5 155.0,498.3 155.5,498.0 156.0,497.7 156.5,498.0 157.0,497.4 157.6,497.3 158.0,497.3 158.5,497.8 159.0,498.1 159.5,498.5 160.0,498.4 160.5,498.3 161.0,498.4 161.5,498.6 162.0,498.8 162.5,498.5 163.0,498.7 163.5,498.9 164.0,499.0 164.5,498.5 165.0,498.4 165.5,498.6 166.0,498.8 166.5,498.3 167.0,498.3 167.5,498.5 168.0,498.7 168.5,498.6 169.0,498.3 169.5,498.3 170.0,498.1 170.5,498.1 171.0,498.2 171.5,498.5 172.0,498.5 172.5,498.4 173.0,498.2 173.5,498.2 174.0,498.4 174.5,498.3 175.0,498.0 175.5,498.3 176.0,498.1 176.5,498.1 177.0,497.6 177.4,497.2 178.0,497.6 178.5,498.0 179.0,498.5 179.5,498.8 180.0,498.7 180.5,498.6 181.0,498.2 181.5,498.6 182.0,498.4 182.5,498.4 183.0,498.1 183.5,498.0 184.0,498.1 184.5,498.6 185.0,498.7 185.5,498.8 186.0,498.8 186.5,498.5 187.0,498.3 187.5,498.4 188.0,498.2 188.5,498.4 189.0,498.4 189.5,498.5 190.0,498.2 190.5,498.0 191.0,498.2 191.5,498.1 192.0,498.3 192.5,498.2 193.0,498.4 193.5,498.6 194.0,498.6 194.5,498.5 195.0,498.2 195.5,498.1 196.0,498.5 196.5,498.1 197.0,497.8 197.5,497.7 198.0,497.6 198.5,497.4 199.0,496.4 199.5,495.6 200.0,493.3 200.6,492.0 201.0,492.9 201.5,495.0 202.0,496.0 202.5,497.0 203.0,497.8 203.5,498.1 204.0,497.9 204.5,498.3 205.0,498.7 205.5,498.2 206.0,498.5 206.5,498.2 207.0,498.0 207.5,498.4 208.0,498.6 208.5,498.9 209.0,498.8 209.5,498.7 210.0,498.4 210.5,498.5 211.0,498.9 211.5,498.8 212.0,498.9 212.5,498.5 213.0,498.7 213.5,498.8 214.0,498.4 214.5,498.7 215.0,498.4 215.5,498.2 216.0,498.1 216.5,498.4 217.0,498.2 217.5,498.7 218.0,498.3 218.5,498.6 219.0,498.7 219.5,498.7 220.0,498.7 220.5,498.8 221.0,498.8 221.5,498.4 222.0,498.7 222.5,498.5 223.0,498.6 223.5,498.6 224.0,498.8 224.5,498.6 225.0,498.8 225.5,498.4 226.0,498.3 226.5,498.5 227.0,498.6 227.5,498.8 228.0,498.5 228.5,498.7 229.0,498.8 229.5,498.4 230.0,498.2 230.5,498.4 231.0,498.8 231.5,498.7 232.0,498.6 232.5,498.6 233.0,498.8 233.5,498.7 234.0,498.6 234.5,498.6 235.0,498.9 235.5,498.9 236.0,499.0 236.5,498.6 237.0,498.6 237.5,498.8 238.0,498.8 238.5,499.0 239.0,499.1 239.5,498.5 240.0,498.5 240.5,498.4 241.0,498.2 241.5,498.4 242.0,498.8 242.5,498.8 243.0,498.4 243.5,498.3 244.0,498.3 244.5,498.6 245.0,498.5 245.5,498.3 246.0,498.4 246.5,498.3 247.0,498.0 247.5,498.3 248.0,498.7 248.5,498.8 249.0,498.8 249.5,498.4 250.0,498.5 250.5,498.6 251.0,498.7 251.5,498.6 252.0,498.2 252.5,498.6 253.0,498.4 253.5,498.6 254.0,498.5 254.5,498.7 255.0,498.5 255.5,498.2 256.0,498.3 256.5,498.3 257.0,498.6 257.5,498.5 258.0,498.6 258.5,498.4 259.0,498.6 259.5,498.3 260.0,498.6 260.5,498.9 261.0,498.3 261.5,498.6 262.0,498.7 262.5,498.7 263.0,498.3 263.5,498.5 264.0,498.7 264.5,498.7 265.0,498.9 265.5,499.0 266.0,498.8 266.5,498.9 267.0,498.5 267.5,498.3 268.0,498.4 268.5,498.4 269.0,498.7 269.5,498.7 270.0,498.7 270.5,498.6 271.0,498.8 271.5,498.6 272.0,498.7 272.5,498.6 273.0,498.5 273.5,498.3 274.0,498.1 274.5,497.9 275.0,498.0 275.5,498.1 276.0,497.9 276.5,498.1 277.0,498.1 277.5,498.6 278.0,498.7 278.5,498.7 279.0,498.8 279.5,498.5 280.0,498.2 280.5,498.3 281.0,498.2 281.5,498.6 282.0,498.5 282.5,498.7 283.0,498.4 283.5,498.1 284.0,498.4 284.5,498.5 285.0,498.3 285.5,498.7 286.0,498.9 286.5,498.8 287.0,499.0 287.5,499.1 288.0,498.6 288.5,498.7 289.0,498.8 289.5,498.8 290.0,498.6 290.5,498.6 291.0,498.6 291.5,498.8 292.0,498.4 292.5,498.4 293.0,498.3 293.5,498.6 294.0,498.3 294.5,498.1 295.0,498.0 295.5,498.0 296.0,498.2 296.5,498.6 297.0,498.5 297.5,498.3 298.0,498.5 298.5,498.4 299.0,498.6 299.5,498.7 300.0,498.7 300.5,498.8 301.0,498.8 301.5,499.0 302.0,499.0 302.5,499.1 303.0,499.1 303.5,498.7 304.0,498.7 304.5,498.9 305.0,499.0 305.5,499.0 306.0,499.1 306.5,499.1 307.0,498.9 307.5,498.9 308.0,498.5 308.5,498.5 309.0,498.8 309.5,499.0 310.0,499.1 310.5,498.9 311.0,498.6 311.5,498.9 312.0,498.9 312.5,498.6 313.0,498.3 313.5,498.8 314.0,498.8 314.5,498.5 315.0,498.9 315.5,498.9 316.0,499.0 316.5,499.1 317.0,498.8 317.5,498.8 318.0,498.5 318.5,498.7 319.0,498.7 319.5,498.9 320.0,498.6 320.5,498.5 321.0,498.5 321.5,498.3 322.0,498.4 322.5,498.9 323.0,499.1 323.5,498.7 324.0,499.0 324.5,498.7 325.0,498.6 325.5,498.8 326.0,498.6 326.5,498.5 327.0,498.3 327.5,498.3 328.0,498.3 328.5,498.8 329.0,498.5 329.5,498.7 330.0,498.5 330.5,498.8 331.0,498.5 331.5,498.6 332.0,498.9 332.5,498.5 333.0,498.6 333.5,498.6 334.0,498.7 334.5,498.9 335.0,498.6 335.5,499.0 336.0,498.8 336.5,499.0 337.0,498.7 337.5,498.5 338.0,498.5 338.5,498.4 339.0,498.4 339.5,498.4 340.0,498.3 340.5,498.8 341.0,498.9 341.5,498.9 342.0,498.9 342.5,499.1 343.0,498.7 343.5,498.5 344.0,498.8 344.5,498.5 345.0,498.7 345.5,498.9 346.0,499.2 346.5,498.7 347.0,498.8 347.5,498.7 348.0,498.9 348.5,498.6 349.0,498.9 349.5,499.3 350.0,499.2 350.5,499.2 351.0,499.3 351.5,499.4 352.0,499.5 352.5,499.2 353.0,498.8" fill="none" stroke="#f2231f" stroke-width="1.2" stroke-linejoin="round" stroke-linecap="round"/><polyline points="48.2,502.0 48.7,489.0 50.0,490.0 51.0,492.8 53.5,494.0 54.8,491.6 56.0,491.0 58.5,495.3 60.0,497.0 64.7,497.8 77.0,499.0 100.0,499.8 200.0,500.2 352.0,500.5" fill="none" stroke="#141414" stroke-width="1.3" stroke-linejoin="round" stroke-linecap="round"/><text x="245" y="297.6" font-size="6.8" fill="#111" font-weight="bold" font-family='"Liberation Sans", sans-serif' textLength="63.2" lengthAdjust="spacingAndGlyphs">Vergrößerung 3x BPF</text><rect x="250.6" y="299.8" width="53.6" height="162.4" fill="#fff" stroke="#666" stroke-width="1"/><text x="245.6" y="315.2" font-size="6" fill="#222" font-weight="bold" font-family='"Liberation Sans", sans-serif' text-anchor="end">10</text><text x="245.6" y="345.4" font-size="6" fill="#222" font-weight="bold" font-family='"Liberation Sans", sans-serif' text-anchor="end">8</text><text x="245.6" y="375.5" font-size="6" fill="#222" font-weight="bold" font-family='"Liberation Sans", sans-serif' text-anchor="end">6</text><text x="245.6" y="406.6" font-size="6" fill="#222" font-weight="bold" font-family='"Liberation Sans", sans-serif' text-anchor="end">4</text><text x="245.6" y="435.3" font-size="6" fill="#222" font-weight="bold" font-family='"Liberation Sans", sans-serif' text-anchor="end">2</text><text x="245.6" y="462.1" font-size="6" fill="#222" font-weight="bold" font-family='"Liberation Sans", sans-serif' text-anchor="end">0</text><text x="251" y="471.0" font-size="6" fill="#222" font-weight="bold" font-family='"Liberation Sans", sans-serif' text-anchor="middle">1,8</text><text x="267" y="471.0" font-size="6" fill="#222" font-weight="bold" font-family='"Liberation Sans", sans-serif' text-anchor="middle">2,0</text><text x="283.2" y="471.0" font-size="6" fill="#222" font-weight="bold" font-family='"Liberation Sans", sans-serif' text-anchor="middle">2,2</text><text x="300.5" y="471.0" font-size="6" fill="#222" font-weight="bold" font-family='"Liberation Sans", sans-serif' text-anchor="middle">2,4</text><text x="259.7" y="480.0" font-size="6.6" fill="#222" font-weight="bold" font-family='"Liberation Sans", sans-serif' textLength="38.3" lengthAdjust="spacingAndGlyphs">Frequenz [Hz]</text><text x="0" y="0" font-size="7.0" fill="#1a1a1a" font-weight="bold" font-family='"Liberation Sans", sans-serif' textLength="54.5" lengthAdjust="spacingAndGlyphs" transform="translate(237.6,412.2) rotate(-90)">Schalldruck [mPa]</text><polyline points="250.8,461.3 258.0,461.0 265.0,460.3 270.0,459.5 273.0,458.5 275.0,456.8 276.8,456.0 278.5,456.8 280.5,458.8 282.6,460.0 288.0,460.8 295.0,461.2 304.0,461.3" fill="none" stroke="#f2231f" stroke-width="1.1" stroke-linejoin="round" stroke-linecap="round"/><polyline points="250.8,456.0 253.0,455.5 256.0,455.8 258.0,454.5 261.0,452.0 264.5,446.5 266.5,442.0 268.6,438.0 270.5,435.5 272.7,433.6 273.6,430.0 274.0,421.0 274.7,396.5 275.2,380.0 277.3,301.3 278.3,338.0 278.6,343.0 278.7,380.0 280.1,413.0 282.0,420.0 282.6,424.5 283.4,444.0 285.0,447.5 287.6,449.2 290.0,449.8 292.0,449.0 293.3,451.0 294.5,449.5 296.0,452.5 298.0,454.0 300.5,454.5 304.0,454.5" fill="none" stroke="#1fae45" stroke-width="1.1" stroke-linejoin="round" stroke-linecap="round"/><path d="M304.5 302 H309 Q310.8 302 310.8 304 V451 Q310.8 453 309 453 H304.5 M310.8 378.4 H315.5" fill="none" stroke="#1fae45" stroke-width="1"/><path d="M304.5 456.5 H308.5 Q310.3 456.5 310.3 458 V459.6 Q310.3 461.1 308.5 461.1 H304.5 M310.3 458.7 H316.4" fill="none" stroke="#f2231f" stroke-width="1"/><text x="319.7" y="380.7" font-size="6.6" fill="#1a9a3a" font-weight="bold" font-family='"Liberation Sans", sans-serif' textLength="25.8" lengthAdjust="spacingAndGlyphs">10,4 mPa</text><text x="318.8" y="461.0" font-size="6.8" fill="#e8231f" font-weight="bold" font-family='"Liberation Sans", sans-serif' textLength="20.6" lengthAdjust="spacingAndGlyphs">0,4 mPa</text></svg>
</body></html>
